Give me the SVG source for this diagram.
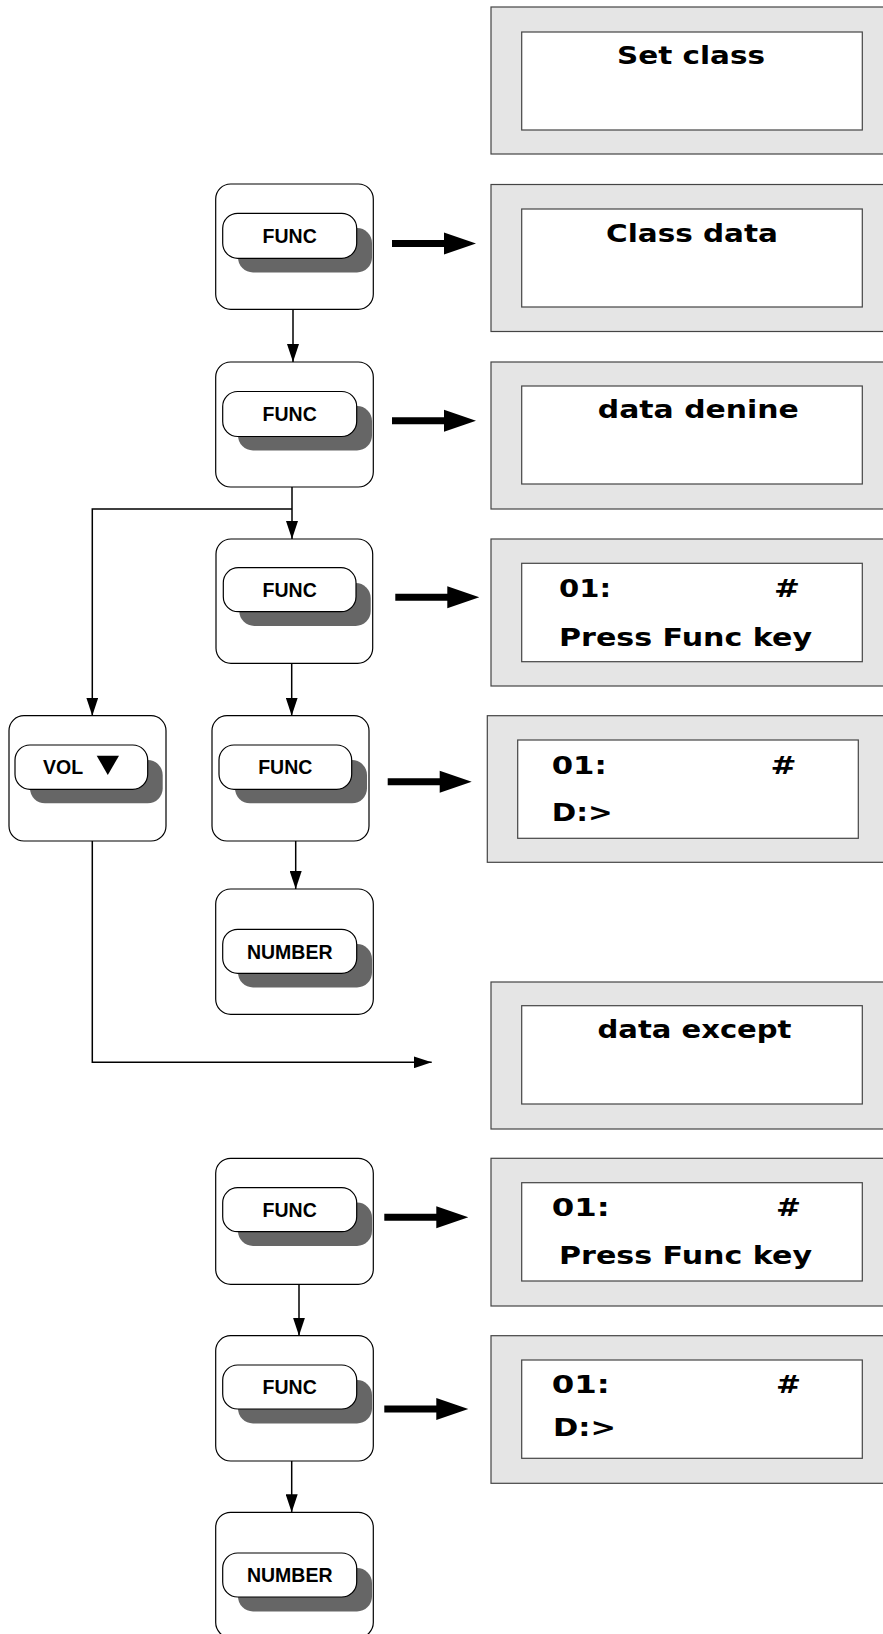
<svg xmlns="http://www.w3.org/2000/svg" width="883" height="1634" viewBox="0 0 883 1634">
<style>
.box{fill:#fff;stroke:#000;stroke-width:1.2}
.key{fill:#fff;stroke:#000;stroke-width:1.2}
.shadow{fill:#666;stroke:none}
.kl{font-family:"Liberation Sans",Arial,sans-serif;font-weight:bold;font-size:19.5px;fill:#000;text-anchor:middle}
.outer{fill:#e5e5e5;stroke:#444;stroke-width:1.2}
.inner{fill:#fff;stroke:#444;stroke-width:1.2}
.title{font-family:"DejaVu Sans",sans-serif;font-weight:bold;font-size:25px;fill:#000;text-anchor:middle}
.l1{font-family:"DejaVu Sans",sans-serif;font-weight:bold;font-size:24px;fill:#000}
.l2{font-family:"DejaVu Sans",sans-serif;font-weight:bold;font-size:25px;fill:#000}
.conn{fill:none;stroke:#000;stroke-width:1.5}
.thick{fill:#000;stroke:none}
</style>
<defs>
<marker id="ah" markerUnits="userSpaceOnUse" markerWidth="18" markerHeight="12" refX="18" refY="6" orient="auto">
<path d="M0,0 L18,6 L0,12 Z" fill="#000"/>
</marker>
<path id="tarrow" d="M0,-3.5 H52 V-11 L84,0 L52,11 V3.5 H0 Z"/>
</defs>

<!-- Displays -->
<g id="d1">
<rect class="outer" x="491" y="7" width="402" height="147"/>
<rect class="inner" x="521.7" y="32" width="340.6" height="98"/>
<text class="title" x="691" y="64" textLength="148" lengthAdjust="spacingAndGlyphs">Set class</text>
</g>
<g id="d2">
<rect class="outer" x="491" y="184.5" width="402" height="147"/>
<rect class="inner" x="521.7" y="209" width="340.6" height="98"/>
<text class="title" x="692" y="241.7" textLength="172" lengthAdjust="spacingAndGlyphs">Class data</text>
</g>
<g id="d3">
<rect class="outer" x="491" y="362" width="402" height="147"/>
<rect class="inner" x="521.7" y="386" width="340.6" height="98"/>
<text class="title" x="698.3" y="418.3" textLength="201" lengthAdjust="spacingAndGlyphs">data denine</text>
</g>
<g id="d4">
<rect class="outer" x="491" y="539" width="402" height="147"/>
<rect class="inner" x="521.7" y="563.3" width="340.6" height="98.4"/>
<text class="l1" x="559" y="597" textLength="52" lengthAdjust="spacingAndGlyphs">01:</text>
<text class="l1" x="774" y="597" textLength="26" lengthAdjust="spacingAndGlyphs">#</text>
<text class="l2" x="559" y="646" textLength="253" lengthAdjust="spacingAndGlyphs">Press Func key</text>
</g>
<g id="d5">
<rect class="outer" x="487.3" y="715.7" width="402" height="146.6"/>
<rect class="inner" x="517.7" y="740" width="340.6" height="98.3"/>
<text class="l1" x="551.7" y="774" textLength="55" lengthAdjust="spacingAndGlyphs">01:</text>
<text class="l1" x="770.5" y="774" textLength="26" lengthAdjust="spacingAndGlyphs">#</text>
<text class="l2" x="551.7" y="821" textLength="61" lengthAdjust="spacingAndGlyphs">D:&gt;</text>
</g>
<g id="d6">
<rect class="outer" x="491" y="982" width="402" height="147"/>
<rect class="inner" x="521.7" y="1005.7" width="340.6" height="98.3"/>
<text class="title" x="694.5" y="1038.3" textLength="194" lengthAdjust="spacingAndGlyphs">data except</text>
</g>
<g id="d7">
<rect class="outer" x="491" y="1158.3" width="402" height="147.7"/>
<rect class="inner" x="521.7" y="1182.7" width="340.6" height="98.3"/>
<text class="l1" x="551.7" y="1216" textLength="58" lengthAdjust="spacingAndGlyphs">01:</text>
<text class="l1" x="776" y="1216" textLength="25" lengthAdjust="spacingAndGlyphs">#</text>
<text class="l2" x="559" y="1264" textLength="253" lengthAdjust="spacingAndGlyphs">Press Func key</text>
</g>
<g id="d8">
<rect class="outer" x="491" y="1335.7" width="402" height="147.6"/>
<rect class="inner" x="521.7" y="1360" width="340.6" height="98.3"/>
<text class="l1" x="551.7" y="1393" textLength="58" lengthAdjust="spacingAndGlyphs">01:</text>
<text class="l1" x="776" y="1393" textLength="25" lengthAdjust="spacingAndGlyphs">#</text>
<text class="l2" x="553" y="1436" textLength="63" lengthAdjust="spacingAndGlyphs">D:&gt;</text>
</g>

<!-- Key nodes -->
<g id="n1">
<rect class="box" x="215.7" y="184" width="157.6" height="125.3" rx="15"/>
<rect class="shadow" x="238" y="228" width="134" height="44.5" rx="15"/>
<rect class="key" x="222.7" y="213.3" width="134" height="45" rx="15"/>
<text class="kl" x="289.7" y="242.8">FUNC</text>
</g>
<g id="n2">
<rect class="box" x="215.7" y="362" width="157.6" height="125" rx="15"/>
<rect class="shadow" x="238" y="406" width="134" height="44.5" rx="15"/>
<rect class="key" x="222.7" y="391.5" width="134" height="45" rx="15"/>
<text class="kl" x="289.7" y="421">FUNC</text>
</g>
<g id="n3">
<rect class="box" x="216" y="539" width="156.7" height="124.3" rx="15"/>
<rect class="shadow" x="239.3" y="583" width="131.4" height="43" rx="15"/>
<rect class="key" x="223.3" y="567.7" width="132.7" height="44" rx="15"/>
<text class="kl" x="289.7" y="596.7">FUNC</text>
</g>
<g id="n4">
<rect class="box" x="212" y="715.7" width="157" height="125.3" rx="15"/>
<rect class="shadow" x="235" y="760" width="132" height="43.3" rx="15"/>
<rect class="key" x="219" y="745" width="132.7" height="44.3" rx="15"/>
<text class="kl" x="285.3" y="774">FUNC</text>
</g>
<g id="vol">
<rect class="box" x="9" y="715.7" width="157" height="125.3" rx="15"/>
<rect class="shadow" x="30" y="760" width="132.7" height="43.3" rx="15"/>
<rect class="key" x="15" y="745" width="132.7" height="44.3" rx="15"/>
<text class="kl" x="43" y="773.5" style="text-anchor:start">VOL</text>
<polygon points="96.7,755.7 119,755.7 107.8,775" fill="#000"/>
</g>
<g id="n5">
<rect class="box" x="215.7" y="889" width="157.6" height="125.3" rx="15"/>
<rect class="shadow" x="238" y="944" width="134" height="43.5" rx="15"/>
<rect class="key" x="222.7" y="929.3" width="134" height="44" rx="15"/>
<text class="kl" x="289.7" y="958.5">NUMBER</text>
</g>
<g id="n6">
<rect class="box" x="215.7" y="1158.3" width="157.6" height="126" rx="15"/>
<rect class="shadow" x="238" y="1202.5" width="134" height="43.5" rx="15"/>
<rect class="key" x="222.7" y="1187.7" width="134" height="44" rx="15"/>
<text class="kl" x="289.7" y="1216.7">FUNC</text>
</g>
<g id="n7">
<rect class="box" x="215.7" y="1335.7" width="157.6" height="125.3" rx="15"/>
<rect class="shadow" x="238" y="1380" width="134" height="43.5" rx="15"/>
<rect class="key" x="222.7" y="1365" width="134" height="44" rx="15"/>
<text class="kl" x="289.7" y="1394">FUNC</text>
</g>
<g id="n8">
<rect class="box" x="215.7" y="1512.3" width="157.6" height="125.3" rx="15"/>
<rect class="shadow" x="238" y="1568" width="134" height="43.5" rx="15"/>
<rect class="key" x="222.7" y="1553" width="134" height="44" rx="15"/>
<text class="kl" x="289.7" y="1582">NUMBER</text>
</g>

<!-- Connectors -->
<g id="connectors">
<line class="conn" x1="293" y1="309.3" x2="293" y2="362" marker-end="url(#ah)"/>
<line class="conn" x1="292" y1="487" x2="292" y2="539" marker-end="url(#ah)"/>
<polyline class="conn" points="292,509 92.3,509 92.3,715.7" marker-end="url(#ah)"/>
<line class="conn" x1="291.7" y1="663.3" x2="291.7" y2="715.7" marker-end="url(#ah)"/>
<line class="conn" x1="295.7" y1="841" x2="295.7" y2="889" marker-end="url(#ah)"/>
<polyline class="conn" points="92.3,841 92.3,1062.3 431.7,1062.3" marker-end="url(#ah)"/>
<line class="conn" x1="299" y1="1284.3" x2="299" y2="1335.7" marker-end="url(#ah)"/>
<line class="conn" x1="291.7" y1="1461" x2="291.7" y2="1512.3" marker-end="url(#ah)"/>
<use class="thick" href="#tarrow" x="392" y="243.5"/>
<use class="thick" href="#tarrow" x="392" y="420.7"/>
<use class="thick" href="#tarrow" x="395.3" y="597.3"/>
<use class="thick" href="#tarrow" x="387.7" y="781.7"/>
<use class="thick" href="#tarrow" x="384.3" y="1217.3"/>
<use class="thick" href="#tarrow" x="384.3" y="1409"/>
</g>
</svg>
